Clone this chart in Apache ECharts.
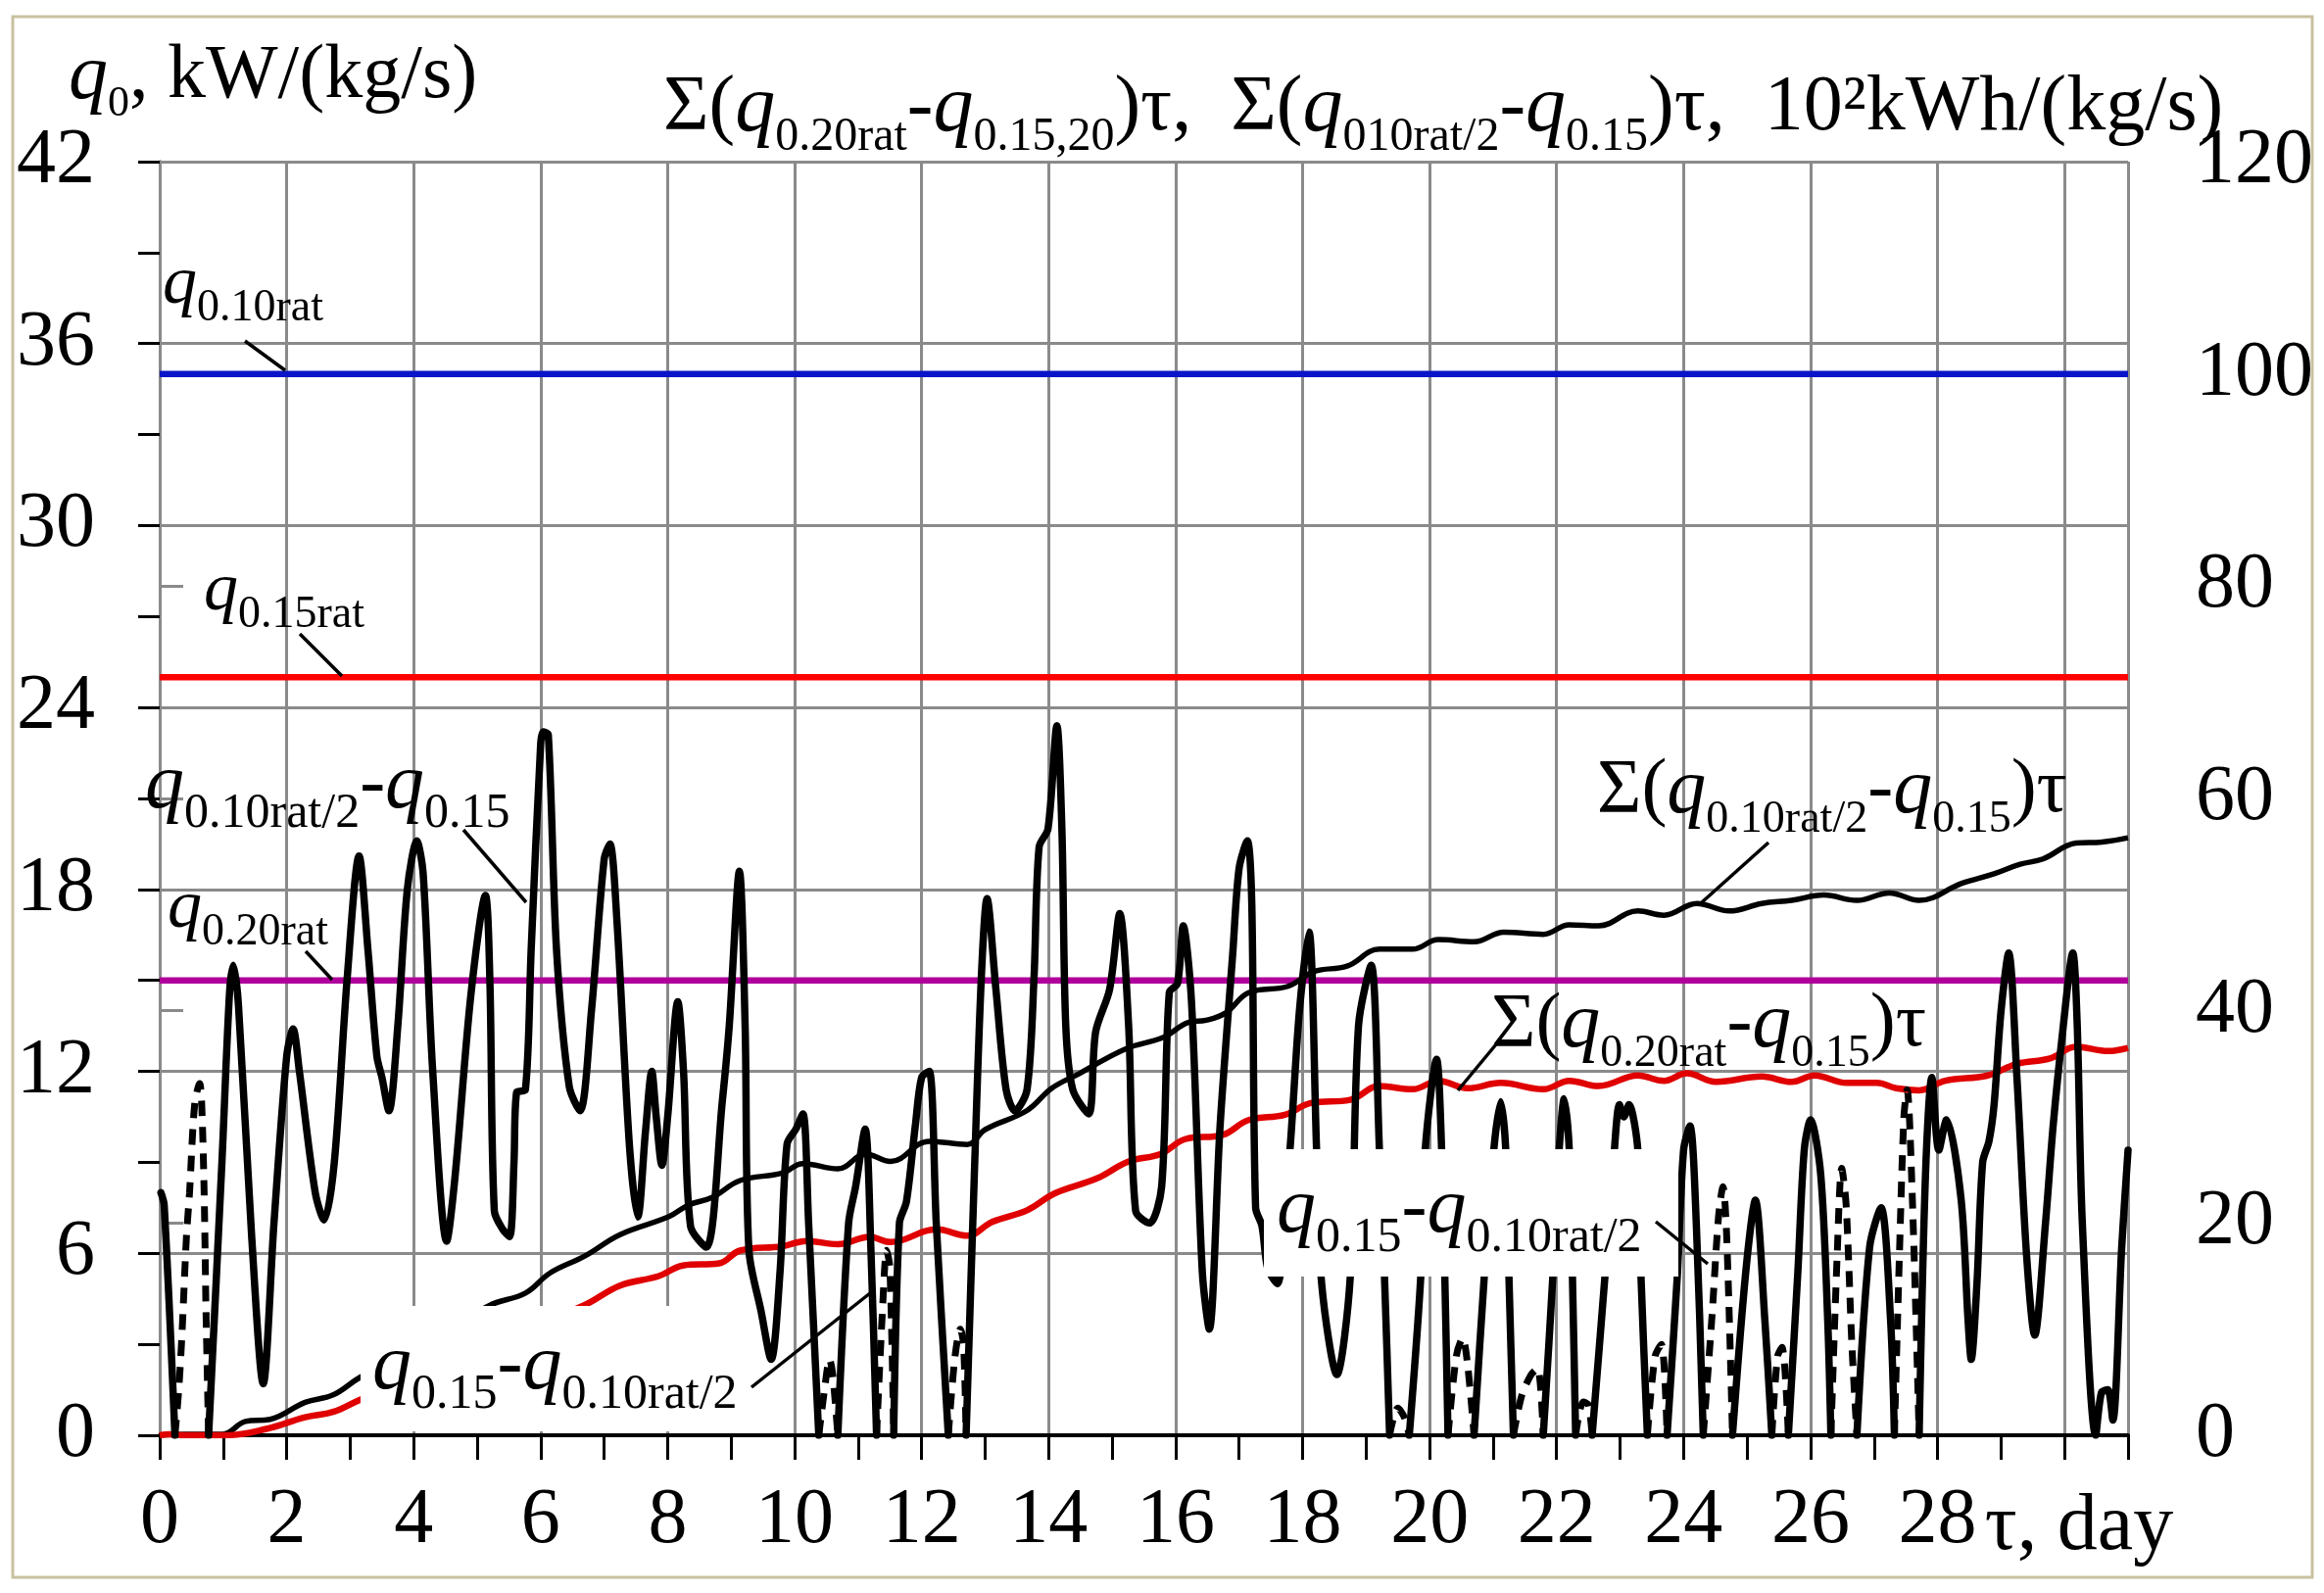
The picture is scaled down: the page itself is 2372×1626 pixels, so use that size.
<!DOCTYPE html>
<html lang="en">
<head>
<meta charset="UTF-8">
<title>q0 over a month</title>
<style>
  body { margin: 0; background: #fff; }
  #chart { width: 2372px; height: 1626px; }
</style>
</head>
<body>
<div id="chart"></div>
<script src="https://cdn.jsdelivr.net/npm/echarts@6/dist/echarts.min.js"></script>
<script>
// rated levels, kW/(kg/s), drawn over the whole month
var ratTau = [0, 31];
var q010rat = [35, 35];
var q015rat = [25, 25];
var q020rat = [15, 15];

// q0.10rat/2 - q0.15 (solid), [day, kW/(kg/s)], null = leaves the axis
var qDiff = [
  [0.02, 8.0], [0.07, 7.6], [0.24, 0], null,
  [0.77, 0], [0.98, 9.0], [1.1, 14.6], [1.16, 15.5], [1.24, 14.2], [1.45, 6.5], [1.63, 1.7], [1.8, 7.0],
  [2.0, 12.5], [2.1, 13.4], [2.2, 12.0], [2.45, 8.0], [2.59, 7.1], [2.75, 9.0], [2.95, 15.0], [3.14, 19.1],
  [3.28, 16.0], [3.42, 12.5], [3.5, 11.8], [3.61, 10.7], [3.75, 13.5], [3.9, 18.0], [4.05, 19.6], [4.15, 18.5],
  [4.3, 12.0], [4.52, 6.4], [4.65, 8.5], [4.9, 14.5], [5.13, 17.8], [5.2, 15.0], [5.27, 7.4], [5.4, 6.8],
  [5.51, 6.55], [5.58, 9.0], [5.62, 11.3], [5.76, 11.4], [5.85, 16.0], [6.0, 22.8], [6.04, 23.2], [6.12, 23.1],
  [6.25, 16.0], [6.45, 11.5], [6.62, 10.7], [6.8, 14.0], [7.0, 19.0], [7.09, 19.5], [7.2, 17.0], [7.4, 9.5],
  [7.53, 7.2], [7.65, 10.0], [7.75, 12.0], [7.82, 10.5], [7.91, 8.9], [8.0, 10.5], [8.16, 14.3], [8.25, 12.0],
  [8.36, 6.9], [8.61, 6.2], [8.86, 11.0], [8.97, 13.5], [9.13, 18.6], [9.22, 13.5], [9.28, 6.1], [9.47, 4.1],
  [9.63, 2.5], [9.77, 5.4], [9.88, 9.6], [10.02, 10.1], [10.13, 10.6], [10.22, 7.0], [10.38, 0], null,
  [10.68, 0], [10.85, 7.0], [10.96, 8.2], [11.11, 10.1], [11.2, 6.2], [11.29, 0], null,
  [11.56, 0], [11.65, 7.0], [11.76, 7.7], [11.9, 10.2], [12.0, 11.8], [12.12, 12.0], [12.23, 7.0], [12.42, 0], null,
  [12.7, 0], [12.83, 8.6], [12.94, 15.1], [13.03, 17.7], [13.17, 14.7], [13.33, 11.4], [13.47, 10.7], [13.66, 11.4],
  [13.77, 15.1], [13.85, 19.4], [13.99, 20.0], [14.13, 23.4], [14.21, 19.9], [14.27, 13.5], [14.38, 11.4], [14.63, 10.6],
  [14.74, 13.3], [14.96, 14.7], [15.12, 17.2], [15.26, 13.5], [15.37, 7.4], [15.59, 7.0], [15.78, 8.2], [15.9, 14.6],
  [16.03, 14.9], [16.12, 16.8], [16.25, 14.3], [16.42, 5.4], [16.53, 3.5], [16.7, 10.2], [16.9, 15.9], [17.0, 18.7],
  [17.13, 19.6], [17.2, 17.5], [17.26, 7.5], [17.36, 6.9], [17.45, 5.5], [17.6, 5.0], [17.8, 9.4], [17.95, 14.0],
  [18.1, 16.6], [18.22, 9.4], [18.3, 5.0], [18.54, 2.0], [18.75, 5.2], [18.88, 13.5], [19.08, 15.5], [19.21, 9.4],
  [19.29, 5.2], [19.37, 0], null,
  [19.68, 0], [19.86, 5.2], [19.93, 9.4], [20.11, 12.4], [20.19, 9.4], [20.24, 5.2], [20.29, 0], null,
  [20.7, 0], [20.86, 5.2], [21.01, 9.4], [21.12, 11.0], [21.2, 9.4], [21.25, 5.2], [21.32, 0], null,
  [21.79, 0], [21.94, 5.2], [22.04, 9.4], [22.12, 11.1], [22.2, 9.4], [22.25, 5.2], [22.3, 0], null,
  [22.56, 0], [22.76, 5.2], [22.91, 9.4], [22.99, 10.9], [23.06, 10.5], [23.14, 10.9], [23.28, 9.4], [23.33, 5.2], [23.43, 0], null,
  [23.74, 0], [23.9, 5.2], [24.0, 9.4], [24.1, 10.2], [24.2, 7.0], [24.31, 0], null,
  [24.77, 0], [24.98, 5.4], [25.13, 7.75], [25.28, 3.8], [25.39, 0], null,
  [25.65, 0], [25.8, 5.4], [25.9, 9.4], [26.0, 10.4], [26.16, 8.6], [26.27, 3.8], [26.32, 0], null,
  [26.73, 0], [26.93, 6.2], [27.11, 7.5], [27.26, 3.8], [27.32, 0], null,
  [27.71, 0], [27.81, 8.6], [27.91, 11.8], [28.02, 9.4], [28.14, 10.4], [28.37, 7.8], [28.48, 3.8], [28.53, 2.5],
  [28.62, 5.0], [28.71, 9.0], [28.81, 9.7], [28.89, 10.9], [29.0, 14.0], [29.12, 15.9], [29.25, 11.8], [29.4, 6.0],
  [29.53, 3.3], [29.7, 7.0], [29.82, 10.2], [29.97, 13.3], [30.13, 15.9], [30.2, 13.5], [30.28, 7.0], [30.49, 0],
  [30.58, 1.4], [30.68, 1.5], [30.76, 0.5], [30.9, 6.2], [31.0, 9.4]
];

// q0.15 - q0.10rat/2 (dashed), only where it rises above zero
var qExcess = [
  [0.24, 0], [0.3, 1.5], [0.35, 3.3], [0.42, 6.5], [0.47, 8.0], [0.55, 10.9], [0.63, 11.6], [0.66, 11.0], [0.7, 8.0], [0.73, 4.0], [0.77, 0], null,
  [10.38, 0], [10.47, 1.5], [10.55, 2.5], [10.6, 2.0], [10.68, 0], null,
  [11.29, 0], [11.38, 4.0], [11.45, 6.1], [11.5, 5.5], [11.56, 0], null,
  [12.42, 0], [12.52, 2.5], [12.61, 3.5], [12.66, 3.0], [12.7, 0], null,
  [19.37, 0], [19.5, 0.9], [19.6, 0.6], [19.68, 0], null,
  [20.29, 0], [20.42, 2.6], [20.52, 3.2], [20.6, 2.3], [20.7, 0], null,
  [21.32, 0], [21.45, 1.3], [21.6, 2.0], [21.7, 2.2], [21.79, 0], null,
  [22.3, 0], [22.42, 1.1], [22.5, 1.0], [22.56, 0], null,
  [23.43, 0], [23.55, 2.6], [23.65, 3.0], [23.74, 0], null,
  [24.31, 0], [24.45, 4.0], [24.55, 7.2], [24.62, 8.2], [24.68, 6.5], [24.77, 0], null,
  [25.39, 0], [25.48, 2.6], [25.55, 2.9], [25.65, 0], null,
  [26.32, 0], [26.42, 6.0], [26.49, 8.8], [26.56, 7.6], [26.65, 3.0], [26.73, 0], null,
  [27.32, 0], [27.4, 6.0], [27.47, 10.5], [27.52, 11.4], [27.6, 8.0], [27.71, 0]
];

// cumulative sums, 10^2 kWh/(kg/s), right axis
var sumHalf = [
  [0, 0], [0.4, 0.1], [0.99, 0.1], [1.35, 1.3], [1.74, 1.5], [2.29, 3.1], [2.73, 3.8], [3.14, 5.4],
  [5.18, 12.2], [5.76, 13.4], [6.15, 15.3], [6.7, 16.9], [7.25, 18.9], [8.02, 20.6], [8.33, 21.7], [8.7, 22.4],
  [9.14, 24.0], [9.8, 24.7], [10.13, 25.6], [10.68, 25.1], [11.12, 26.5], [11.51, 25.8], [12.12, 27.7], [12.72, 27.4],
  [13.0, 28.8], [13.66, 30.6], [14.05, 32.7], [14.49, 34.1], [15.21, 36.4], [15.81, 37.5], [16.2, 38.9], [16.48, 39.1],
  [16.79, 39.8], [17.15, 41.7], [17.77, 42.3], [18.18, 43.7], [18.7, 44.2], [19.21, 45.8], [19.73, 45.8], [20.14, 46.7],
  [20.7, 46.5], [21.17, 47.4], [21.79, 47.2], [22.2, 48.1], [22.66, 48.0], [23.28, 49.4], [23.69, 49.0], [24.21, 50.1],
  [24.72, 49.4], [25.23, 50.1], [25.7, 50.4], [26.21, 50.9], [26.73, 50.4], [27.24, 51.1], [27.71, 50.4], [28.38, 52.0],
  [28.89, 52.9], [29.3, 53.8], [29.66, 54.3], [30.18, 55.8], [30.59, 55.9], [31.0, 56.3]
];
var sumRat20 = [
  [0, 0], [0.15, 0.1], [0.4, 0], [1.07, 0], [1.68, 0.6], [2.29, 1.7], [2.73, 2.2], [3.14, 3.3],
  [6.67, 12.2], [7.25, 14.1], [7.86, 15.0], [8.24, 16.0], [8.81, 16.2], [9.14, 17.4], [9.8, 17.8], [10.19, 18.3],
  [10.68, 18.0], [11.18, 18.7], [11.51, 18.2], [12.23, 19.4], [12.72, 18.8], [13.11, 20.1], [13.66, 21.2], [14.1, 22.8],
  [14.76, 24.2], [15.26, 25.8], [15.76, 26.5], [16.15, 27.9], [16.74, 28.3], [17.15, 29.7], [17.72, 30.2], [18.13, 31.3],
  [18.75, 31.6], [19.21, 32.9], [19.73, 32.6], [20.14, 33.4], [20.6, 32.7], [21.12, 33.2], [21.79, 32.6], [22.2, 33.4],
  [22.66, 32.9], [23.28, 33.9], [23.69, 33.4], [24.05, 34.1], [24.51, 33.3], [25.23, 33.8], [25.7, 33.3], [26.06, 33.9],
  [26.57, 33.2], [27.04, 33.2], [27.35, 32.7], [27.71, 32.5], [28.12, 33.4], [28.79, 33.9], [29.25, 35.0], [29.77, 35.5],
  [30.18, 36.6], [30.69, 36.2], [31.0, 36.5]
];

var F = 'Liberation Serif';
var GRID_GREY = '#8a8a8a';

function pts(list) {
  return list.map(function (p) { return p ? p : ['-', '-']; });
}
function pair(xs, ys) {
  return xs.map(function (x, i) { return [x, ys[i]]; });
}

// rich text styles: q italic, s subscript (pushed down by top padding), m upright
function rich(qs, ss, ms, pad) {
  return {
    q: { fontSize: qs, fontStyle: 'italic', fontFamily: F, fill: '#000' },
    s: { fontSize: ss, fontFamily: F, fill: '#000', padding: [pad, 0, 0, 0] },
    m: { fontSize: ms, fontFamily: F, fill: '#000' }
  };
}
function label(x, y, text, r) {
  return { type: 'text', z: 110, x: x, y: y, style: { text: text, rich: r, fill: '#000' } };
}
function leader(x1, y1, x2, y2) {
  return { type: 'line', z: 110, shape: { x1: x1, y1: y1, x2: x2, y2: y2 }, style: { stroke: '#000', lineWidth: 3.5 } };
}
function whiteBox(x, y, w, h) {
  return { type: 'rect', z: 105, shape: { x: x, y: y, width: w, height: h }, style: { fill: '#fff' } };
}

var rSmall = rich(70, 46, 70, 48);
var rBig = rich(80, 50, 78, 56);
var rSum = rich(80, 46, 78, 58);
var rTitle = rich(82, 48, 80, 58);

var chart = echarts.init(document.getElementById('chart'), null, { renderer: 'canvas' });

var option = {
  backgroundColor: '#fff',
  animation: false,
  grid: { left: 163, top: 165, right: 200, bottom: 161, containLabel: false },
  xAxis: [
    {
      type: 'value', min: 0, max: 31, interval: 1, position: 'bottom',
      axisLine: { show: true, lineStyle: { color: '#000', width: 4 } },
      axisTick: { show: true, length: 25, lineStyle: { color: '#000', width: 3 } },
      axisLabel: { show: false },
      splitLine: { show: false }
    },
    {
      type: 'value', min: 0, max: 31, interval: 2, position: 'bottom',
      axisLine: { show: false },
      axisTick: { show: false },
      axisLabel: {
        show: true, margin: 48, color: '#000', fontSize: 80, fontFamily: F,
        formatter: function (v) { return v <= 28 ? String(v) : ''; }
      },
      splitLine: { show: true, lineStyle: { color: GRID_GREY, width: 3 } }
    }
  ],
  yAxis: [
    {
      type: 'value', min: 0, max: 42, interval: 6, position: 'left',
      axisLine: { show: true, lineStyle: { color: '#000', width: 3 } },
      axisTick: { show: true, length: 22, lineStyle: { color: '#000', width: 3 } },
      minorTick: { show: true, splitNumber: 2, length: 22, lineStyle: { color: '#000', width: 3 } },
      axisLabel: { margin: 66, color: '#000', fontSize: 80, fontFamily: F },
      splitLine: { show: true, lineStyle: { color: GRID_GREY, width: 3 } }
    },
    {
      type: 'value', min: 0, max: 120, interval: 20, position: 'right',
      axisLine: { show: true, lineStyle: { color: GRID_GREY, width: 3 } },
      axisTick: { show: true, length: 24, lineStyle: { color: GRID_GREY, width: 3 } },
      axisLabel: { margin: 69, color: '#000', fontSize: 80, fontFamily: F },
      splitLine: { show: false }
    }
  ],
  series: [
    { type: 'line', name: 'q0.10rat', data: pair(ratTau, q010rat), showSymbol: false, lineStyle: { color: '#0a14c8', width: 6.5 } },
    { type: 'line', name: 'q0.15rat', data: pair(ratTau, q015rat), showSymbol: false, lineStyle: { color: '#ff0000', width: 6.5 } },
    { type: 'line', name: 'q0.20rat', data: pair(ratTau, q020rat), showSymbol: false, lineStyle: { color: '#b0009c', width: 6.5 } },
    { type: 'line', name: 'sum 0.10rat/2', yAxisIndex: 1, data: sumHalf, showSymbol: false, smooth: 0.4,
      lineStyle: { color: '#000', width: 5.5 } },
    { type: 'line', name: 'sum 0.20rat', yAxisIndex: 1, data: sumRat20, showSymbol: false, smooth: 0.4,
      lineStyle: { color: '#e00000', width: 6.5 } },
    { type: 'line', name: 'excess', data: pts(qExcess), showSymbol: false, smooth: 0.3, connectNulls: false,
      lineStyle: { color: '#000', width: 7, type: [16, 11] } },
    { type: 'line', name: 'deficit', data: pts(qDiff), showSymbol: false, smooth: 0.3, connectNulls: false,
      lineStyle: { color: '#000', width: 7.5, cap: 'round', join: 'round' } }
  ],
  graphic: [
    { type: 'rect', z: 120, shape: { x: 13, y: 17, width: 2347, height: 1593 }, style: { fill: null, stroke: '#c9c1a0', lineWidth: 3 } },
    // axis titles
    label(70, 30, '{q|q}{s|0}{m|, kW/(kg/s)}', rich(80, 44, 78, 54)),
    label(677, 58, '{m|Σ(}{q|q}{s|0.20rat}{m|-}{q|q}{s|0.15,20}{m|)τ,  Σ(}{q|q}{s|010rat/2}{m|-}{q|q}{s|0.15}{m|)τ,  10²kWh/(kg/s)}', rTitle),
    { type: 'text', z: 110, x: 2122, y: 1518, style: { text: 'τ, day', fontSize: 82, fontFamily: F, fill: '#000', align: 'center' } },
    // rated levels
    label(166, 244, '{q|q}{s|0.10rat}', rSmall),
    leader(250, 348, 291, 378),
    label(208, 557, '{q|q}{s|0.15rat}', rSmall),
    leader(306, 647, 349, 690),
    label(171, 881, '{q|q}{s|0.20rat}', rSmall),
    leader(312, 971, 339, 1000),
    // solid curve
    label(148, 750, '{q|q}{s|0.10rat/2}{m|-}{q|q}{s|0.15}', rBig),
    leader(473, 847, 537, 921),
    // cumulative sums
    label(1630, 756, '{m|Σ(}{q|q}{s|0.10rat/2}{m|-}{q|q}{s|0.15}{m|)τ}', rSum),
    leader(1805, 860, 1737, 921),
    label(1522, 995, '{m|Σ(}{q|q}{s|0.20rat}{m|-}{q|q}{s|0.15}{m|)τ}', rSum),
    leader(1527, 1066, 1488, 1113),
    // dashed curve, two boxed labels
    whiteBox(368, 1333, 398, 128),
    label(380, 1343, '{q|q}{s|0.15}{m|-}{q|q}{s|0.10rat/2}', rBig),
    leader(767, 1416, 888, 1320),
    whiteBox(1290, 1173, 423, 130),
    label(1303, 1183, '{q|q}{s|0.15}{m|-}{q|q}{s|0.10rat/2}', rBig),
    leader(1690, 1247, 1743, 1290)
  ]
};
chart.setOption(option);
</script>
</body>
</html>
